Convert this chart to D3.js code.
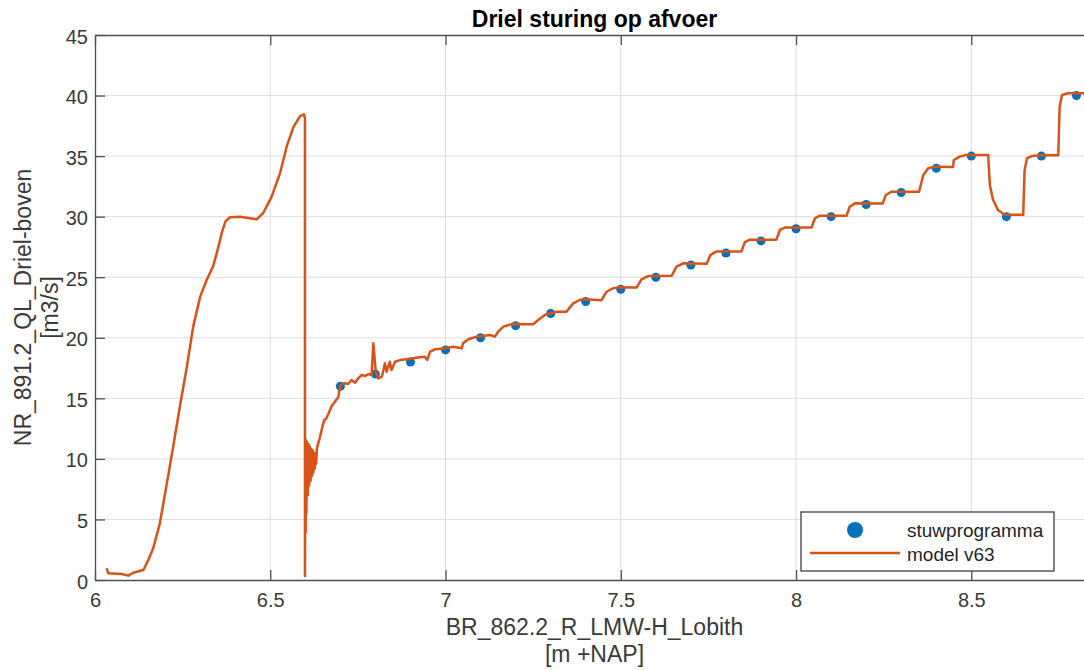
<!DOCTYPE html>
<html>
<head>
<meta charset="utf-8" />
<title>Driel sturing op afvoer</title>
<style>
  body { margin: 0; background: #fff; }
  #chart svg { display: block; font-family: "Liberation Sans", Arial, sans-serif; }
  .grid line { stroke: #dedede; stroke-width: 1; }
  .axis path, .axis line { stroke: #505050; stroke-width: 1.3; }
  .axis text { fill: #3a3a3a; font-size: 20px; }
</style>
</head>
<body>
<div id="chart"></div>
<script src="https://cdnjs.cloudflare.com/ajax/libs/d3/7.8.5/d3.min.js"></script>
<script>
// stuwprogramma (markers)
var stuwH = [6.7, 6.8, 6.9, 7.0, 7.1, 7.2, 7.3, 7.4, 7.5, 7.6, 7.7, 7.8, 7.9, 8.0, 8.1, 8.2, 8.3, 8.4, 8.5, 8.6, 8.7, 8.8];
var stuwQ = [16, 17, 18, 19, 20, 21, 22, 23, 24, 25, 26, 27, 28, 29, 30, 31, 32, 34, 35, 30, 35, 40];

// model v63 (line)
var modelH = [6.033, 6.038, 6.076, 6.095, 6.109, 6.138, 6.152, 6.166, 6.185, 6.205, 6.223, 6.242, 6.262, 6.280, 6.300,
  6.319, 6.337, 6.352, 6.362, 6.372, 6.385, 6.414, 6.442, 6.461, 6.480, 6.504, 6.528, 6.547, 6.566, 6.585, 6.596, 6.599, 6.599,
  6.600, 6.601, 6.602, 6.603, 6.605, 6.607, 6.609, 6.611, 6.613, 6.615, 6.617, 6.619, 6.621, 6.623, 6.625, 6.627, 6.629,
  6.631, 6.633, 6.636, 6.640, 6.649, 6.654, 6.659, 6.664, 6.670, 6.674, 6.684, 6.694, 6.699, 6.704,
  6.713, 6.722, 6.732, 6.742, 6.751, 6.761, 6.770, 6.780, 6.789, 6.794, 6.801, 6.808, 6.818, 6.822, 6.827, 6.832, 6.841,
  6.846, 6.856, 6.870, 6.889, 6.927, 6.941, 6.948, 6.956, 6.970, 6.993, 7.022, 7.046, 7.050, 7.065, 7.089, 7.127, 7.141,
  7.150, 7.165, 7.189, 7.250, 7.268, 7.283, 7.300, 7.317, 7.345, 7.364, 7.383, 7.400, 7.445, 7.459, 7.478, 7.497, 7.545,
  7.559, 7.578, 7.645, 7.659, 7.678, 7.745, 7.756, 7.772, 7.844, 7.854, 7.868, 7.944, 7.954, 7.968, 8.044, 8.054, 8.068,
  8.144, 8.153, 8.168, 8.247, 8.256, 8.272, 8.351, 8.363, 8.377, 8.396, 8.448, 8.450, 8.467, 8.486, 8.548, 8.553, 8.562,
  8.576, 8.595, 8.648, 8.652, 8.659, 8.672, 8.696, 8.748, 8.752, 8.759, 8.775, 8.850];
var modelQ = [0.97, 0.55, 0.50, 0.36, 0.60, 0.83, 1.65, 2.62, 4.68, 7.98, 11.0, 14.3, 17.6, 20.9, 23.4,
  24.8, 25.9, 27.5, 28.7, 29.6, 29.95, 30.0, 29.87, 29.78, 30.3, 31.65, 33.6, 35.8, 37.4, 38.3, 38.45, 38.1, 0.33,
  11.7, 3.9, 11.5, 5.5, 11.4, 7.0, 11.2, 7.8, 11.0, 8.2, 10.8, 8.6, 10.7, 8.9, 10.5, 9.2, 10.4,
  9.6, 10.8, 11.2, 11.6, 12.7, 13.2, 13.3, 13.6, 14.0, 14.3, 14.7, 15.1, 15.96, 16.2,
  16.24, 16.18, 16.51, 16.29, 16.65, 16.93, 16.84, 17.01, 16.93, 19.55, 17.20, 16.65, 16.79, 17.2, 17.89, 17.20, 18.02,
  17.34, 18.02, 18.16, 18.22, 18.39, 18.44, 18.17, 18.85, 19.05, 19.12, 19.26, 19.13, 19.55, 19.88, 20.09, 20.23, 20.09,
  20.50, 20.92, 21.13, 21.12, 21.55, 21.88, 22.05, 22.15, 22.15, 22.84, 23.12, 23.18, 23.10, 23.80, 24.09, 24.17, 24.15,
  24.83, 25.10, 25.12, 25.87, 26.15, 26.12, 26.85, 27.12, 27.12, 27.90, 28.10, 28.10, 28.90, 29.10, 29.10, 29.87, 30.08,
  30.08, 30.82, 31.10, 31.08, 31.79, 32.06, 32.06, 33.44, 34.00, 34.13, 34.10, 34.68, 34.96, 35.10, 35.10, 32.60, 31.40,
  30.55, 30.15, 30.15, 33.85, 34.82, 35.00, 35.07, 35.07, 39.08, 40.05, 40.19, 40.19];

var xTicks = [6, 6.5, 7, 7.5, 8, 8.5];
var yTicks = [0, 5, 10, 15, 20, 25, 30, 35, 40, 45];
var legendLabels = ["stuwprogramma", "model v63"];

var width = 1084, height = 670;
var margin = {top: 35, left: 95, bottom: 90};
var plotRight = 1094;
var plotBottom = height - margin.bottom;
var blue = "#0072bd", orange = "#d95319";

var svg = d3.select("#chart").append("svg")
  .attr("width", width)
  .attr("height", height);

var x = d3.scaleLinear().domain([6, 8.85]).range([margin.left, plotRight]);
var y = d3.scaleLinear().domain([0, 45]).range([plotBottom, margin.top]);

// grid
var grid = svg.append("g").attr("class", "grid");
grid.selectAll(".gx").data(xTicks.slice(1)).enter().append("line")
  .attr("x1", function(d) { return x(d); }).attr("x2", function(d) { return x(d); })
  .attr("y1", y(0)).attr("y2", y(45));
grid.selectAll(".gy").data(yTicks.slice(1, -1)).enter().append("line")
  .attr("x1", x(6)).attr("x2", plotRight)
  .attr("y1", function(d) { return y(d); }).attr("y2", function(d) { return y(d); });

// markers first, line on top
svg.append("g").selectAll("circle")
  .data(stuwH).enter().append("circle")
  .attr("cx", function(d) { return x(d); })
  .attr("cy", function(d, i) { return y(stuwQ[i]); })
  .attr("r", 4.5)
  .attr("fill", blue);

var line = d3.line()
  .x(function(d) { return x(d); })
  .y(function(d, i) { return y(modelQ[i]); });

svg.append("path")
  .datum(modelH)
  .attr("d", line)
  .attr("fill", "none")
  .attr("stroke", orange)
  .attr("stroke-width", 2.5)
  .attr("stroke-linejoin", "round");

// axes (ticks pointing inward)
svg.append("g").attr("class", "axis")
  .attr("transform", "translate(0," + plotBottom + ")")
  .call(d3.axisBottom(x).tickValues(xTicks).tickSizeInner(-10).tickSizeOuter(0).tickPadding(13).tickFormat(d3.format("")));
svg.append("g").attr("class", "axis")
  .attr("transform", "translate(0," + margin.top + ")")
  .call(d3.axisTop(x).tickValues(xTicks).tickSizeInner(-10).tickSizeOuter(0).tickFormat(""));
svg.append("g").attr("class", "axis")
  .attr("transform", "translate(" + margin.left + ",0)")
  .call(d3.axisLeft(y).tickValues(yTicks).tickSizeInner(-10).tickSizeOuter(0).tickPadding(7))
  .selectAll("text").attr("dy", "0.4em");
svg.append("g").attr("class", "axis")
  .attr("transform", "translate(" + plotRight + ",0)")
  .call(d3.axisRight(y).tickValues(yTicks).tickSizeInner(-10).tickSizeOuter(0).tickFormat(""));

// title and labels
var cx = (margin.left + plotRight) / 2;
svg.append("text")
  .attr("x", cx).attr("y", 27)
  .attr("text-anchor", "middle")
  .style("font-size", "23px").style("font-weight", "bold").attr("fill", "#000")
  .text("Driel sturing op afvoer");

var xl = svg.append("text")
  .attr("text-anchor", "middle")
  .style("font-size", "23px").attr("fill", "#3a3a3a");
xl.append("tspan").attr("x", cx).attr("y", 635).text("BR_862.2_R_LMW-H_Lobith");
xl.append("tspan").attr("x", cx).attr("y", 662).text("[m +NAP]");

var yl = svg.append("text")
  .attr("transform", "translate(0," + (margin.top + plotBottom) / 2 + ") rotate(-90)")
  .attr("text-anchor", "middle")
  .style("font-size", "23px").attr("fill", "#3a3a3a");
yl.append("tspan").attr("x", 0).attr("y", 31).text("NR_891.2_QL_Driel-boven");
yl.append("tspan").attr("x", 0).attr("y", 58).text("[m3/s]");

// legend
var lg = svg.append("g");
lg.append("rect")
  .attr("x", 801).attr("y", 512).attr("width", 253).attr("height", 59)
  .attr("fill", "#fff").attr("stroke", "#404040").attr("stroke-width", 1.3);
lg.append("circle").attr("cx", 855).attr("cy", 530).attr("r", 8).attr("fill", blue);
lg.append("line").attr("x1", 810).attr("x2", 900).attr("y1", 553).attr("y2", 553)
  .attr("stroke", orange).attr("stroke-width", 2.5);
lg.selectAll(".lt").data(legendLabels).enter().append("text")
  .attr("x", 907)
  .attr("y", function(d, i) { return 537 + i * 24; })
  .style("font-size", "19px").attr("fill", "#262626")
  .text(function(d) { return d; });
</script>
</body>
</html>
